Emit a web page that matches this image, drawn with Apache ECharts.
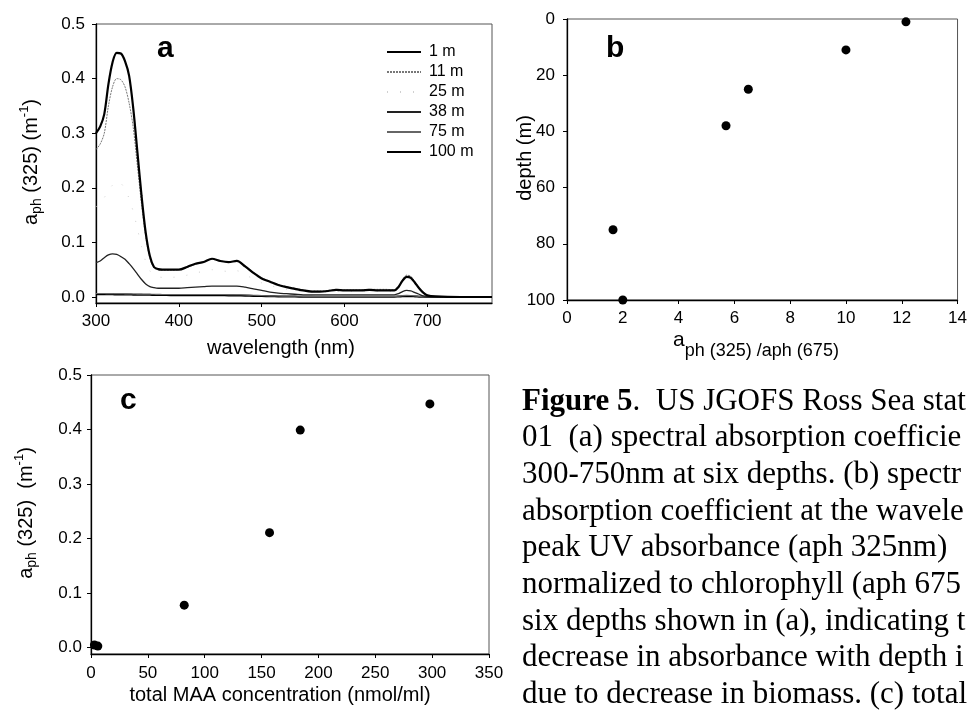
<!DOCTYPE html>
<html><head><meta charset="utf-8">
<script src="https://cdn.jsdelivr.net/npm/echarts@6/dist/echarts.min.js"></script>
<style>html,body{margin:0;padding:0;background:#fff}#c{width:970px;height:714px}</style>
</head><body><div id="c"></div>
<script>
// ---------- Panel a: spectra ----------
const wavelengths = [300,305,310,315,320,325,330,335,340,345,350,355,360,365,370,375,
  380,390,400,410,420,430,440,450,460,470,480,490,500,510,520,530,540,550,560,570,580,590,600,610,620,630,640,650,660,
  665,670,675,680,685,690,695,700,710,740,778];
const depthLabels = ['1 m','11 m','25 m','38 m','75 m','100 m'];
const aph_1m = [0.300,0.312,0.335,0.390,0.430,0.447,0.446,0.432,0.405,0.345,0.265,0.185,0.118,0.075,0.055,0.051,
  0.050,0.050,0.050,0.055,0.061,0.064,0.070,0.066,0.064,0.066,0.056,0.044,0.034,0.028,0.022,0.018,0.015,0.012,0.010,0.010,0.011,0.013,0.012,0.012,0.012,0.013,0.012,0.012,0.012,
  0.018,0.030,0.037,0.035,0.026,0.016,0.008,0.003,0.001,0.000,0.000];
const aph_11m = [0.270,0.280,0.300,0.350,0.385,0.400,0.398,0.385,0.355,0.310,0.240,0.170,0.110,0.072,0.053,0.050,
  0.049,0.049,0.050,0.054,0.060,0.064,0.069,0.066,0.064,0.066,0.057,0.045,0.035,0.029,0.023,0.019,0.016,0.013,0.011,0.011,0.012,0.014,0.013,0.013,0.013,0.014,0.014,0.014,0.013,
  0.020,0.032,0.040,0.038,0.028,0.017,0.008,0.003,0.001,0.000,0.000];
const aph_25m = [0.165,0.172,0.182,0.195,0.205,0.211,0.208,0.198,0.180,0.156,0.125,0.092,0.065,0.048,0.040,0.037,
  0.036,0.036,0.037,0.040,0.044,0.047,0.050,0.048,0.047,0.048,0.041,0.033,0.026,0.021,0.017,0.014,0.012,0.010,0.009,0.009,0.009,0.010,0.010,0.010,0.010,0.010,0.010,0.010,0.010,
  0.016,0.026,0.032,0.030,0.022,0.013,0.006,0.002,0.001,0.000,0.000];
const aph_38m = [0.063,0.066,0.072,0.077,0.079,0.078,0.074,0.069,0.061,0.052,0.042,0.032,0.024,0.019,0.017,0.016,
  0.016,0.016,0.016,0.017,0.018,0.019,0.020,0.020,0.020,0.020,0.018,0.015,0.012,0.009,0.007,0.006,0.005,0.004,0.004,0.004,0.004,0.004,0.004,0.004,0.004,0.004,0.004,0.004,0.004,
  0.006,0.010,0.012,0.011,0.008,0.005,0.002,0.001,0.0005,0.000,0.000];
const aph_75m = [0.0065,0.0065,0.0063,0.0062,0.0061,0.006,0.006,0.0058,0.0056,0.0055,0.0053,0.0052,0.005,0.005,0.0049,0.0048,
  0.0047,0.0046,0.0045,0.0045,0.0045,0.0045,0.0046,0.0045,0.0044,0.0042,0.0038,0.0032,0.0026,0.002,0.0017,0.0015,0.0013,0.0012,0.0011,0.001,0.001,0.001,0.001,0.001,0.001,0.001,0.001,0.001,0.001,
  0.0015,0.0025,0.003,0.0028,0.002,0.0012,0.0005,0.0002,0.0001,0.000,0.000];
const aph_100m = [0.0052,0.0051,0.005,0.0049,0.0048,0.0047,0.0046,0.0045,0.0044,0.0043,0.0042,0.0041,0.004,0.0039,0.0038,0.0037,
  0.0036,0.0034,0.0032,0.0031,0.003,0.003,0.003,0.003,0.0029,0.0027,0.0024,0.002,0.0016,0.0013,0.001,0.0008,0.0007,0.0006,0.0005,0.0005,0.0005,0.0005,0.0005,0.0005,0.0005,0.0005,0.0005,0.0005,0.0005,
  0.0008,0.0012,0.0015,0.0014,0.001,0.0006,0.0003,0.0001,0.0,0.000,0.000];
const aTicksX = [300,400,500,600,700];
const aTicksY = [0,0.1,0.2,0.3,0.4,0.5];

// ---------- Panel b: ratio vs depth ----------
const depthB = [1,11,25,38,75,100];
const ratioB = [12.15,10.0,6.5,5.7,1.65,2.0];

// ---------- Panel c: MAA vs aph(325) ----------
const maaC = [298,184,157,82,6,3];
const aph325C = [0.447,0.399,0.211,0.078,0.003,0.005];
const cTicksY = [0,0.1,0.2,0.3,0.4,0.5];

const captionLines = [
  '01  (a) spectral absorption coefficie',
  '300-750nm at six depths. (b) spectr',
  'absorption coefficient at the wavele',
  'peak UV absorbance (aph 325nm)',
  'normalized to chlorophyll (aph 675',
  'six depths shown in (a), indicating t',
  'decrease in absorbance with depth i',
  'due to decrease in biomass. (c) total'
];

const SANS = '"Liberation Sans", Arial, sans-serif';
const SERIF = '"Liberation Serif", "Times New Roman", serif';

function pairs(xs, ys){ return xs.map((x,i)=>[x, ys[i]]); }

function valAxis(o){
  return {
    type:'value', gridIndex:o.grid, min:o.min, max:o.max, interval:o.interval, inverse:!!o.inverse,
    axisLine:{show:true,onZero:false,lineStyle:{color:'#000',width:1.3}},
    axisTick:{show:true,inside:false,length:4,lineStyle:{color:'#000',width:1}, customValues:o.custom},
    splitLine:{show:false},
    axisLabel:{color:'#000',fontSize:17,fontFamily:SANS,margin:o.margin,customValues:o.custom,
      formatter:o.fmt||(v=>String(v))}
  };
}

const lineStyles = [
  {color:'#000',width:2.2,type:'solid'},
  {color:'#777',width:1,type:[2,1]},
  {color:'#d0d0d0',width:1,type:[1,12]},
  {color:'#222',width:1.3,type:'solid'},
  {color:'#666',width:1.1,type:'solid'},
  {color:'#000',width:2,type:'solid'}
];
const aSeriesData = [aph_1m,aph_11m,aph_25m,aph_38m,aph_75m,aph_100m];

const series = aSeriesData.map((d,i)=>({
  name:depthLabels[i], type:'line', xAxisIndex:0, yAxisIndex:0,
  data:pairs(wavelengths,d), symbol:'none', smooth:0.3,
  lineStyle:lineStyles[i], itemStyle:{color:lineStyles[i].color},
  z: 10-i, animation:false
}));
series.push({type:'scatter',xAxisIndex:1,yAxisIndex:1,data:pairs(ratioB,depthB),symbolSize:9,
  itemStyle:{color:'#000',opacity:1},animation:false});
series.push({type:'scatter',xAxisIndex:2,yAxisIndex:2,data:pairs(maaC,aph325C),symbolSize:9,
  itemStyle:{color:'#000',opacity:1},animation:false});

function titleText(x,y,rot,rich,text){
  return {type:'text',x:x,y:y,rotation:rot,z:50,style:{text:text,rich:rich,align:'center',verticalAlign:'middle',
    fill:'#000',fontFamily:SANS,fontSize:20}};
}
const yRich = {
  a:{fontSize:20,fontFamily:SANS,lineHeight:26,fill:'#000'},
  sub:{fontSize:14,fontFamily:SANS,verticalAlign:'bottom',fill:'#000'},
  n:{fontSize:20,fontFamily:SANS,lineHeight:26,fill:'#000'},
  sup:{fontSize:13,fontFamily:SANS,verticalAlign:'top',fill:'#000'}
};
const bRich = {
  a:{fontSize:21,fontFamily:SANS,lineHeight:30,verticalAlign:'top',fill:'#000'},
  s:{fontSize:18,fontFamily:SANS,verticalAlign:'bottom',fill:'#000'}
};

const graphics = [
  {type:'text',x:157,y:49,z:50,style:{text:'a',font:'bold 30px '+SANS,fill:'#000',verticalAlign:'middle'}},
  {type:'text',x:606,y:49,z:50,style:{text:'b',font:'bold 30px '+SANS,fill:'#000',verticalAlign:'middle'}},
  {type:'text',x:120,y:401,z:50,style:{text:'c',font:'bold 30px '+SANS,fill:'#000',verticalAlign:'middle'}},
  titleText(31,162,Math.PI/2,yRich,'{a|a}{sub|ph}{n| (325) (m}{sup|-1}{n|)}'),
  titleText(26,513,Math.PI/2,yRich,'{a|a}{sub|ph}{n| (325)  (m}{sup|-1}{n|)}'),
  titleText(525,158,Math.PI/2,yRich,'{n|depth (m)}'),
  titleText(281,348,0,yRich,'{n|wavelength (nm)}'),
  titleText(280,695,0,yRich,'{n|total MAA concentration (nmol/ml)}'),
  titleText(756,345,0,bRich,'{a|a}{s|ph (325) /aph (675)}'),
  {type:'text',x:522,y:401.5,z:50,style:{text:'{b|Figure 5}.  US JGOFS Ross Sea stat',
    rich:{b:{fontWeight:'bold',fontFamily:SERIF,fontSize:31,fill:'#000'}},
    fontFamily:SERIF,fontSize:31,fill:'#000',verticalAlign:'middle'}}
];
captionLines.forEach((t,i)=>{
  graphics.push({type:'text',x:522,y:401.5+36.67*(i+1),z:50,style:{text:t,fontFamily:SERIF,fontSize:31,fill:'#000',verticalAlign:'middle'}});
});

const chart = echarts.init(document.getElementById('c'));
chart.setOption({
  animation:false,
  backgroundColor:'#fff',
  grid:[
    {left:96,top:24,width:396,height:279,show:true,borderColor:'#555',borderWidth:1},
    {left:567,top:19,width:395,height:281,show:true,borderColor:'#555',borderWidth:1},
    {left:91,top:375,width:398,height:279,show:true,borderColor:'#555',borderWidth:1}
  ],
  xAxis:[
    valAxis({grid:0,min:300,max:778,custom:aTicksX,margin:10}),
    valAxis({grid:1,min:0,max:14,interval:2,margin:10}),
    valAxis({grid:2,min:0,max:350,interval:50,margin:11})
  ],
  yAxis:[
    valAxis({grid:0,min:-0.011,max:0.5,custom:aTicksY,margin:11,fmt:v=>v.toFixed(1)}),
    valAxis({grid:1,min:0,max:100,interval:20,inverse:true,margin:12}),
    valAxis({grid:2,min:-0.0115,max:0.5,custom:cTicksY,margin:9,fmt:v=>v.toFixed(1)})
  ],
  legend:{data:depthLabels,left:386,top:44,orient:'vertical',itemWidth:34,itemHeight:14,itemGap:4,
    padding:0, selectedMode:false,
    itemStyle:{opacity:0},
    textStyle:{fontSize:16,fontFamily:SANS,color:'#000',padding:[0,0,0,3]}},
  series:series,
  graphic:graphics
});
</script>
</body></html>
